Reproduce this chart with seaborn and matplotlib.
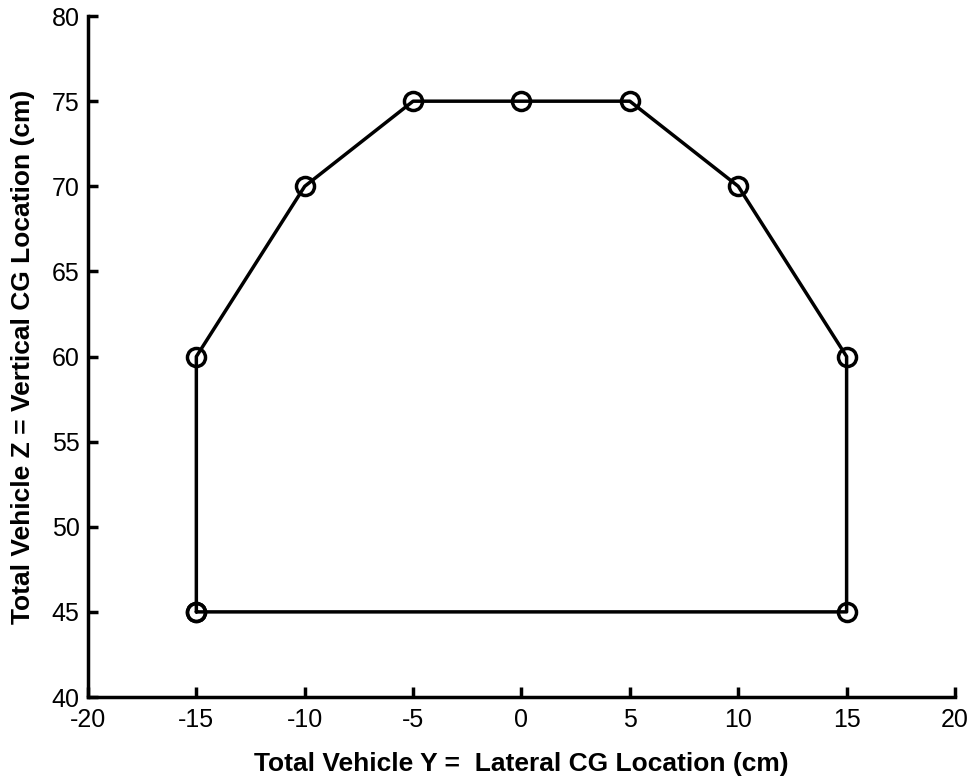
import matplotlib
matplotlib.use("Agg")
import matplotlib.pyplot as plt
import seaborn as sns
import pandas as pd

y_lateral = [-15, -15, -10, -5, 0, 5, 10, 15, 15, -15]
z_vertical = [45, 60, 70, 75, 75, 75, 70, 60, 45, 45]
x_ticks = [-20, -15, -10, -5, 0, 5, 10, 15, 20]
y_ticks = [40, 45, 50, 55, 60, 65, 70, 75, 80]

sns.set_style("ticks")
plt.rcParams['font.family'] = ['Liberation Sans', 'DejaVu Sans']
plt.rcParams['axes.unicode_minus'] = False
plt.rcParams['text.color'] = 'black'
plt.rcParams['axes.labelcolor'] = 'black'

df = pd.DataFrame({"y": y_lateral, "z": z_vertical})

fig = plt.figure(figsize=(9.72, 7.8), dpi=100)
ax = fig.add_axes([0.0905, 0.1064, 0.892, 0.873])
sns.lineplot(data=df, x="y", y="z", sort=False, estimator=None, ax=ax,
             color="black", linewidth=2.5, marker="o", markersize=13,
             markerfacecolor="none", markeredgecolor="black", markeredgewidth=2.5)

ax.set_xlim(-20, 20)
ax.set_ylim(40, 80)
ax.set_xticks(x_ticks)
ax.set_yticks(y_ticks)
ax.tick_params(direction="in", length=7, width=2.5, labelsize=18, colors="black")
ax.tick_params(axis="x", pad=8)
ax.tick_params(axis="y", pad=6)
for s in ["top", "right"]:
    ax.spines[s].set_visible(False)
for s in ["left", "bottom"]:
    ax.spines[s].set_linewidth(2.5)
    ax.spines[s].set_color("black")
ax.set_xlabel("Total Vehicle Y =  Lateral CG Location (cm)", fontsize=19, fontweight="bold",
              labelpad=14, color="black")
ax.set_ylabel("Total Vehicle Z = Vertical CG Location (cm)", fontsize=19, fontweight="bold",
              labelpad=12, color="black")

fig.savefig("out.png", dpi=100)
